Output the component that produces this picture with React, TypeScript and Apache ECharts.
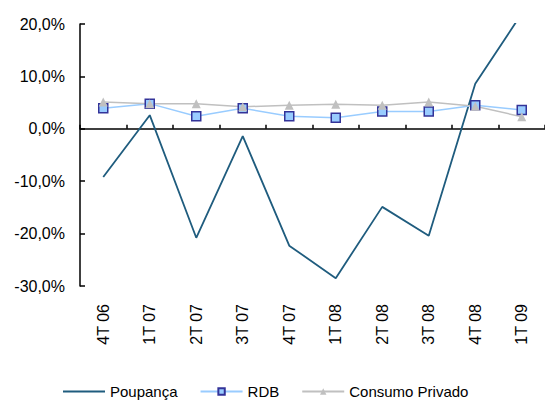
import React, { useEffect, useRef } from "react";
import * as echarts from "echarts";

// Quarterly year-on-year growth rates (%)
const quarters = ["4T 06", "1T 07", "2T 07", "3T 07", "4T 07", "1T 08", "2T 08", "3T 08", "4T 08", "1T 09"];
const poupanca = [-9.2, 2.6, -20.8, -1.4, -22.3, -28.5, -14.9, -20.4, 8.6, 22.0];
const rdb = [3.9, 4.8, 2.4, 3.9, 2.4, 2.1, 3.3, 3.3, 4.5, 3.6];
const consumoPrivado = [5.1, 4.8, 4.8, 4.2, 4.5, 4.7, 4.5, 5.1, 4.3, 2.3];
const yTicks = { min: -30, max: 20, interval: 10 };

const FONT = "'Liberation Sans', Arial, sans-serif";

const pct = (v: number) => v.toFixed(1).replace(".", ",") + "%";

export default function App() {
  const ref = useRef<HTMLDivElement>(null);

  useEffect(() => {
    if (!ref.current) return;
    const chart = echarts.init(ref.current, undefined, { renderer: "svg" });
    chart.setOption({
      animation: false,
      backgroundColor: "#ffffff",
      textStyle: { fontFamily: FONT },
      grid: { left: 80, right: 0, top: 24, bottom: 115, containLabel: false },
      legend: {
        bottom: 2,
        left: 62,
        padding: 0,
        itemWidth: 42,
        itemHeight: 8,
        itemGap: 22,
        textStyle: { fontFamily: FONT, fontSize: 15, color: "#000" },
        data: [
          { name: "Poupança", itemStyle: { opacity: 0 } },
          "RDB",
          "Consumo Privado",
        ],
      },
      xAxis: [
        {
          type: "category",
          data: quarters,
          position: "bottom",
          axisLine: { show: false, onZero: false },
          axisTick: { show: false },
          axisLabel: {
            rotate: 90,
            margin: 18,
            fontSize: 16,
            color: "#000",
            fontFamily: FONT,
          },
        },
        {
          type: "category",
          data: quarters,
          position: "bottom",
          axisLine: { show: true, onZero: true, lineStyle: { color: "#000", width: 1.5 } },
          axisTick: { show: true, inside: true, length: 4, lineStyle: { color: "#000", width: 1.5 } },
          axisLabel: { show: false },
        },
      ],
      yAxis: {
        type: "value",
        min: yTicks.min,
        max: yTicks.max,
        interval: yTicks.interval,
        splitLine: { show: false },
        axisLine: { show: true, lineStyle: { color: "#000", width: 1.5 } },
        axisTick: { show: true, inside: true, length: 5, lineStyle: { color: "#000", width: 1.5 } },
        axisLabel: {
          formatter: pct,
          fontSize: 16,
          color: "#000",
          fontFamily: FONT,
          margin: 15,
        },
      },
      series: [
        {
          name: "Poupança",
          type: "line",
          data: poupanca,
          symbol: "none",
          lineStyle: { color: "#1f5c7e", width: 1.8 },
          itemStyle: { color: "#1f5c7e" },
          clip: true,
        },
        {
          name: "RDB",
          type: "line",
          data: rdb,
          symbol: "rect",
          symbolSize: 9,
          lineStyle: { color: "#99ccff", width: 1.5 },
          itemStyle: { color: "#99ccff", borderColor: "#333399", borderWidth: 1.5 },
        },
        {
          name: "Consumo Privado",
          type: "line",
          data: consumoPrivado,
          symbol: "triangle",
          symbolSize: 9,
          lineStyle: { color: "#c0c0c0", width: 1.5 },
          itemStyle: { color: "#c0c0c0" },
        },
      ],
    });
    return () => chart.dispose();
  }, []);

  return (
    <div
      ref={ref}
      style={{ position: "fixed", left: 0, top: 0, width: 545, height: 401 }}
    />
  );
}
